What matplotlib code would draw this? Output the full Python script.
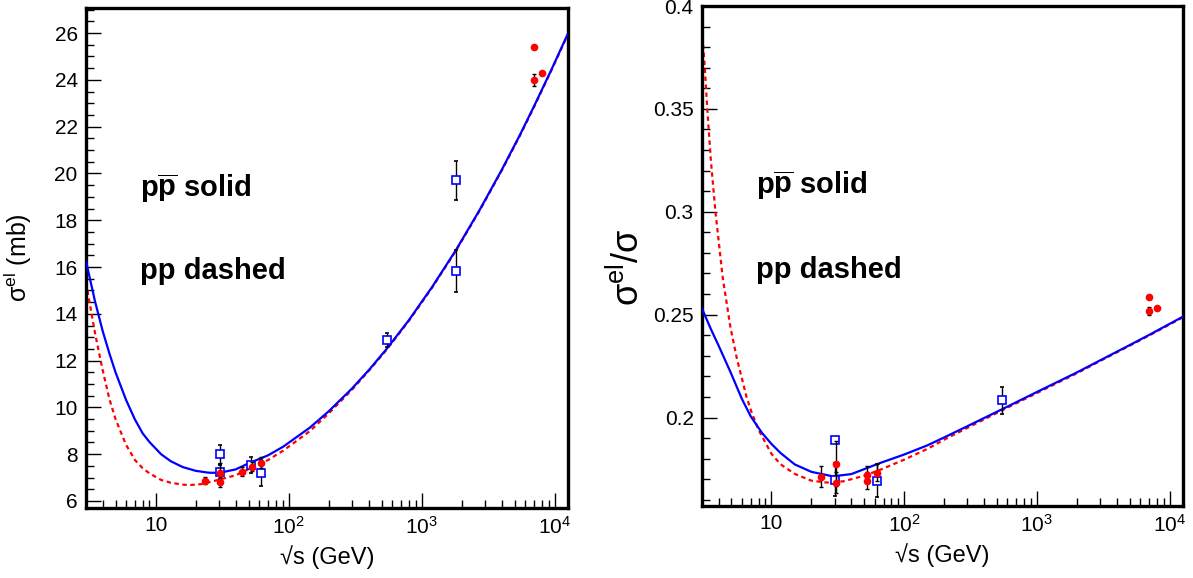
import matplotlib
matplotlib.use("Agg")
import matplotlib.pyplot as plt
from matplotlib.ticker import LogLocator, FuncFormatter, MultipleLocator, NullFormatter

plt.rcParams['font.family'] = ['Liberation Sans', 'DejaVu Sans']
plt.rcParams['mathtext.fontset'] = 'custom'
plt.rcParams['mathtext.rm'] = 'Liberation Sans'
plt.rcParams['mathtext.it'] = 'Liberation Sans:italic'
plt.rcParams['mathtext.bf'] = 'Liberation Sans:bold'

# ---- left panel: sigma_el (mb) ----
# model curves
el_ppbar_x = [3.0, 3.5, 4.0, 4.5, 5.0, 6.0, 7.0, 8.0, 9.0, 11, 13, 16, 20, 25, 30, 40, 51, 70, 91,
              144, 200, 300, 406, 546, 800, 1200, 1800, 2730, 4000, 5500, 7080, 9500, 12500]
el_ppbar_y = [16.25, 14.55, 13.27, 12.3, 11.5, 10.32, 9.48, 8.89, 8.52, 8.0, 7.7, 7.45, 7.29, 7.21, 7.2,
              7.35, 7.63, 7.95, 8.32, 9.13, 9.83, 10.81, 11.63, 12.5, 13.72, 15.15, 16.7, 18.44,
              20.15, 21.66, 22.93, 24.46, 25.94]
el_pp_x = [3.0, 3.5, 4.0, 4.5, 5.0, 6.0, 7.0, 8.0, 9.0, 11, 13, 16, 18, 22, 28.6, 40, 51, 70, 91,
           144, 200, 300, 406, 546, 800, 1200, 1800, 2730, 4000, 5500, 7080, 9500, 12500]
el_pp_y = [15.33, 13.2, 11.6, 10.35, 9.5, 8.4, 7.75, 7.4, 7.18, 6.9, 6.78, 6.7, 6.68, 6.72, 6.88, 7.1,
           7.38, 7.75, 8.15, 8.98, 9.74, 10.76, 11.6, 12.47, 13.69, 15.12, 16.67, 18.41, 20.12,
           21.63, 22.9, 24.43, 25.91]

# data points
el_pp_data_x = [23.5, 30.6, 30.6, 44.7, 52.8, 62.5, 7000, 7000, 8000]
el_pp_data_y = [6.87, 7.18, 6.81, 7.25, 7.47, 7.64, 25.4, 24.0, 24.3]
el_pp_data_e = [0.15, 0.45, 0.2, 0.2, 0.2, 0.25, 0.0, 0.25, 0.0]
el_ppbar_data_x = [30.4, 30.4, 52.6, 62.3, 546, 1800, 1800]
el_ppbar_data_y = [8.0, 7.23, 7.54, 7.21, 12.9, 19.7, 15.82]
el_ppbar_data_e = [0.4, 0.3, 0.35, 0.55, 0.3, 0.85, 0.9]

# ---- right panel: sigma_el / sigma_tot ----
r_ppbar_x = [3.0, 3.5, 4.0, 4.92, 6.0, 7.0, 8.5, 10, 11.7, 15, 20, 29, 40, 66, 100, 150, 200, 300,
             546, 1000, 2000, 3000, 5000, 7080, 12500]
r_ppbar_y = [0.253, 0.243, 0.235, 0.2221, 0.209, 0.2005, 0.1925, 0.1872, 0.1828, 0.1772, 0.1736,
             0.1714, 0.1725, 0.1779, 0.182, 0.1865, 0.1903, 0.1958, 0.204, 0.2124, 0.2219, 0.2278,
             0.2352, 0.2403, 0.2489]
r_pp_x = [3.0, 3.15, 3.29, 3.5, 3.79, 4.3, 4.92, 5.5, 6.5, 7.08, 8, 10, 11.7, 15, 20, 26, 35, 50, 66,
          100, 150, 200, 300, 546, 1000, 2000, 3000, 5000, 7080, 12500]
r_pp_y = [0.389, 0.37, 0.35, 0.325, 0.30, 0.268, 0.2437, 0.2286, 0.21, 0.2027, 0.194, 0.1824, 0.1773,
          0.1726, 0.1693, 0.1684, 0.169, 0.1717, 0.1746, 0.1795, 0.1848, 0.1892, 0.195, 0.2035,
          0.2119, 0.2215, 0.2275, 0.2349, 0.24, 0.2486]

r_pp_data_x = [23.5, 30.6, 30.6, 52.8, 52.8, 62.5, 7000, 7000, 8000]
r_pp_data_y = [0.1712, 0.1776, 0.1683, 0.1722, 0.1693, 0.1732, 0.2585, 0.2517, 0.2532]
r_pp_data_e = [0.005, 0.011, 0.005, 0.004, 0.004, 0.004, 0.0, 0.002, 0.0]
r_ppbar_data_x = [30.4, 30.4, 62.3, 546]
r_ppbar_data_y = [0.1893, 0.1698, 0.1693, 0.2083]
r_ppbar_data_e = [0.0, 0.008, 0.008, 0.0065]

xticklab = {10: '10', 100: '$10^{2}$', 1000: '$10^{3}$', 10000: '$10^{4}$'}

fig = plt.figure(figsize=(11.93, 5.78), dpi=100)
ax1 = fig.add_axes([0.0721, 0.1211, 0.404, 0.865])
ax2 = fig.add_axes([0.5884, 0.1246, 0.4032, 0.865])


def style(ax):
    ax.set_xscale('log')
    ax.set_xlim(3.0, 12600)
    for s in ax.spines.values():
        s.set_linewidth(2.4)
    ax.xaxis.set_major_locator(LogLocator(base=10, subs=(1.0,)))
    ax.xaxis.set_minor_locator(LogLocator(base=10, subs=range(2, 10)))
    ax.xaxis.set_minor_formatter(NullFormatter())
    ax.xaxis.set_major_formatter(FuncFormatter(lambda v, p: xticklab.get(int(round(v)), '')))
    ax.tick_params(which='both', direction='in', top=False, right=False, labelsize=15, width=1.0)
    ax.tick_params(which='major', length=11, pad=6)
    ax.tick_params(which='minor', length=6)
    ax.set_xlabel('√s (GeV)', fontsize=17, labelpad=5)


def draw(ax, bx, by, rx, ry, pdx, pdy, pde, bdx, bdy, bde):
    ax.plot(rx, ry, color='red', lw=1.6, linestyle=(0, (2.0, 1.6)), zorder=2)
    ax.plot(bx, by, color='blue', lw=1.6, zorder=3)
    ax.errorbar(bdx, bdy, yerr=bde, fmt='s', ms=5.5, mfc='white', mec='blue', mew=1.2,
                ecolor='black', elinewidth=1.0, capsize=1.5, zorder=4)
    ax.errorbar(pdx, pdy, yerr=pde, fmt='o', ms=4.5, color='red', mec='red',
                ecolor='black', elinewidth=1.0, capsize=1.5, zorder=5)


draw(ax1, el_ppbar_x, el_ppbar_y, el_pp_x, el_pp_y, el_pp_data_x, el_pp_data_y, el_pp_data_e,
     el_ppbar_data_x, el_ppbar_data_y, el_ppbar_data_e)
style(ax1)
ax1.set_ylim(5.7, 27.07)
ax1.yaxis.set_major_locator(MultipleLocator(2))
ax1.yaxis.set_minor_locator(MultipleLocator(0.5))
ax1.set_ylabel('σ$^{\\mathrm{el}}$ (mb)', fontsize=18)
ax1.yaxis.set_label_coords(-0.108, 0.5)

draw(ax2, r_ppbar_x, r_ppbar_y, r_pp_x, r_pp_y, r_pp_data_x, r_pp_data_y, r_pp_data_e,
     r_ppbar_data_x, r_ppbar_data_y, r_ppbar_data_e)
style(ax2)
ax2.set_ylim(0.157, 0.4)
ax2.yaxis.set_major_locator(MultipleLocator(0.05))
ax2.yaxis.set_minor_locator(MultipleLocator(0.01))
ax2.yaxis.set_major_formatter(FuncFormatter(lambda v, p: ('%g' % round(v, 3))))
ax2.set_ylabel('σ$^{\\mathrm{el}}$/σ', fontsize=26)
ax2.yaxis.set_label_coords(-0.114, 0.478)

for ax, ys, yd in [(ax1, 0.64, 0.474), (ax2, 0.642, 0.472)]:
    ax.text(0.112, ys, 'p$\\mathbf{\\overline{p}}$ solid', transform=ax.transAxes,
            fontsize=21, fontweight='bold', ha='left', va='center')
    ax.text(0.112, yd, 'pp dashed', transform=ax.transAxes,
            fontsize=21, fontweight='bold', ha='left', va='center')

fig.savefig('out.png', dpi=100)
